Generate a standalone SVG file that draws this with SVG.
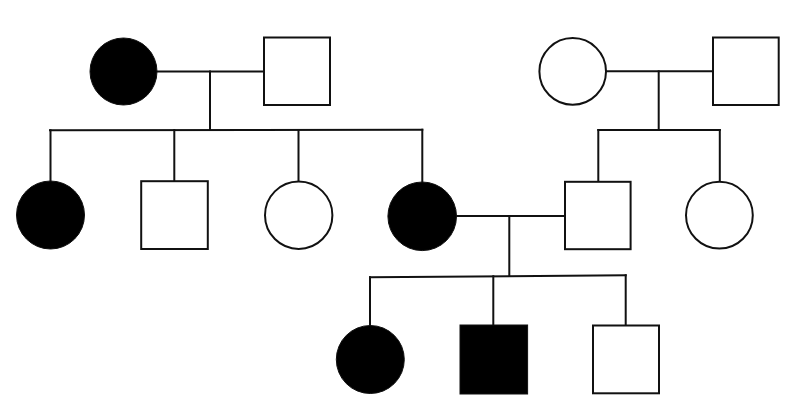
<svg xmlns="http://www.w3.org/2000/svg" width="809" height="417" viewBox="0 0 809 417">
<style>
.ln{stroke:#111;stroke-width:2;fill:none;stroke-linecap:square}
.open{fill:#fff;stroke:#111;stroke-width:2}
.aff{fill:#000;stroke:#111;stroke-width:1}
</style>
<rect width="809" height="417" fill="#fff"/>
<g id="connectors">
<path class="ln" d="M156 71.5H264"/>
<path class="ln" d="M210 71.5V130"/>
<path class="ln" d="M50 130.3L422.3 129.7"/>
<path class="ln" d="M50.5 130.2V181M174.3 130V181M298.5 130V181M422.3 129.7V182"/>
<path class="ln" d="M606 71.3H713"/>
<path class="ln" d="M658.7 71.3V130"/>
<path class="ln" d="M598.3 130H719.8"/>
<path class="ln" d="M598.3 130V182M719.8 130V181"/>
<path class="ln" d="M456 216H565"/>
<path class="ln" d="M509.3 216V276"/>
<path class="ln" d="M370 277.3L625.7 275.3"/>
<path class="ln" d="M370 277.3V325M493.3 276.3V325M625.7 275.3V325"/>
</g>
<g id="gp1-female"><circle class="aff" cx="123.5" cy="71.5" r="33.5"/></g>
<g id="gp1-male"><rect class="open" x="264" y="37.5" width="66" height="67.5"/></g>
<g id="gp2-female"><circle class="open" cx="572.7" cy="71.4" r="33.3"/></g>
<g id="gp2-male"><rect class="open" x="713" y="37.5" width="65.7" height="67.5"/></g>
<g id="c1-female"><circle class="aff" cx="50.5" cy="215" r="34"/></g>
<g id="c2-male"><rect class="open" x="141.2" y="181.2" width="66.6" height="67.8"/></g>
<g id="c3-female"><circle class="open" cx="298.7" cy="215.2" r="33.7"/></g>
<g id="c4-female"><circle class="aff" cx="422.2" cy="216.3" r="34.3"/></g>
<g id="c5-male"><rect class="open" x="565" y="181.8" width="65.6" height="67.4"/></g>
<g id="c6-female"><circle class="open" cx="719.4" cy="215.2" r="33.4"/></g>
<g id="g1-female"><circle class="aff" cx="370.3" cy="359.5" r="34"/></g>
<g id="g2-male"><rect class="aff" x="460" y="325" width="67.6" height="69"/></g>
<g id="g3-male"><rect class="open" x="593" y="325.5" width="66" height="67.8"/></g>
</svg>
